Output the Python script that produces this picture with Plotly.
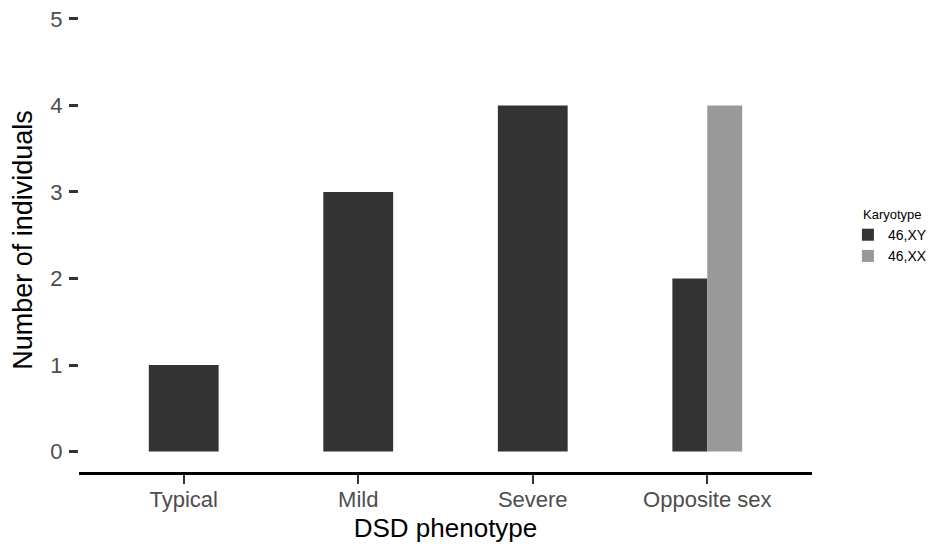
import plotly.graph_objects as go

categories = ["Typical", "Mild", "Severe", "Opposite sex"]
xy_counts = [1, 3, 4, 2]
xx_counts = [0, 0, 0, 4]
series_names = ["46,XY", "46,XX"]
series_colors = ["#333333", "#999999"]
y_ticks = [0, 1, 2, 3, 4, 5]

series_values = [xy_counts, xx_counts]
total_width = 0.4

# ggplot-like dodge: bars present in a category share the total width
present = [[v[i] > 0 for v in series_values] for i in range(len(categories))]

fig = go.Figure()
for s, (name, vals, col) in enumerate(zip(series_names, series_values, series_colors)):
    xs, ys, widths, offsets = [], [], [], []
    for i, cat in enumerate(categories):
        if vals[i] <= 0:
            continue
        n = sum(present[i])
        k = sum(present[i][:s])
        w = total_width / n
        xs.append(cat)
        ys.append(vals[i])
        widths.append(w)
        offsets.append(-total_width / 2 + k * w)
    fig.add_trace(go.Bar(
        x=xs, y=ys, name=name, width=widths, offset=offsets,
        marker=dict(color=col, line=dict(width=0)),
    ))

FONT = "Liberation Sans, Arial, sans-serif"

fig.update_layout(
    width=919, height=536,
    margin=dict(l=71, r=115, t=0, b=72, autoexpand=False),
    paper_bgcolor="white", plot_bgcolor="white",
    font=dict(family=FONT, color="#4d4d4d"),
    barmode="overlay",
    showlegend=True,
    legend=dict(
        x=1.049, xanchor="left", y=0.545, yanchor="top",
        font=dict(size=14, color="black"),
        tracegroupgap=0, itemwidth=30,
    ),
    annotations=[dict(
        text="Karyotype", xref="paper", yref="paper",
        x=1.067, y=0.556, xanchor="left", yanchor="middle",
        showarrow=False, font=dict(size=13, color="black", family=FONT),
    )],
    xaxis=dict(
        type="category", categoryorder="array", categoryarray=categories,
        range=[-0.6, 3.6],
        showline=True, linewidth=3, linecolor="black",
        ticks="outside", ticklen=9, tickwidth=2, tickcolor="#333333",
        tickfont=dict(size=22, color="#4d4d4d"),
        ticklabelstandoff=-3,
        title=dict(text="DSD phenotype", font=dict(size=26, color="black"), standoff=8),
        showgrid=False, zeroline=False, automargin=True,
    ),
    yaxis=dict(
        range=[-0.237, 5.127],
        tickvals=y_ticks,
        showline=False,
        ticks="outside", ticklen=9, tickwidth=3, tickcolor="#333333",
        tickfont=dict(size=22, color="#4d4d4d"),
        ticklabelstandoff=2, ticklabeloverflow="allow",
        title=dict(text="Number of individuals", font=dict(size=27, color="black"), standoff=12),
        showgrid=False, zeroline=False, automargin=False,
    ),
)

fig.write_html("out.html")
